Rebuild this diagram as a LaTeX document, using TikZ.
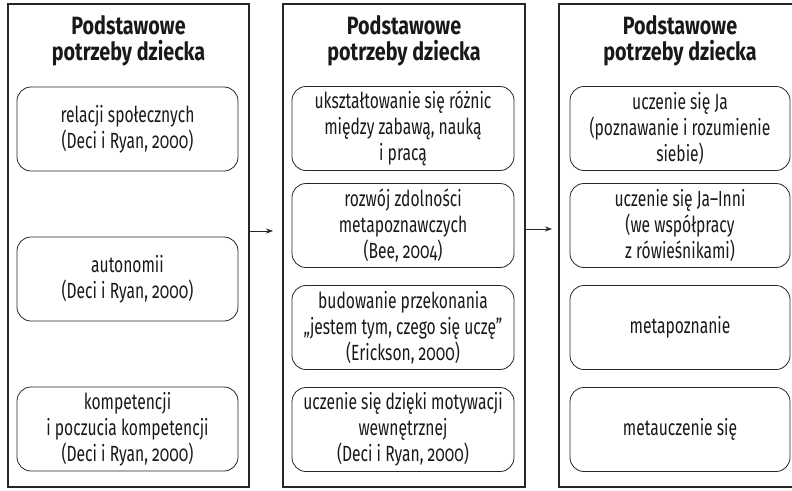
\documentclass[tikz,border=0pt]{standalone}
\usepackage{fontspec}
\setmainfont{Fira Sans}[FakeStretch=0.71, Numbers=OldStyle]
\newfontfamily\titlefont{Fira Sans}[FakeStretch=0.79, Numbers=OldStyle]
\usetikzlibrary{arrows.meta}
\begin{document}
\begin{tikzpicture}[x=1pt,y=-1pt,
 outerbox/.style={draw=black!85, line width=1.2pt, minimum height=483pt, inner sep=0pt},
 innerbox/.style={draw=black!85, line width=0.8pt, rounded corners=14pt, minimum height=84pt, align=center, inner sep=0pt, font=\fontsize{22}{26}\selectfont, text=black!90},
 titletext/.style={align=center, font=\titlefont\bfseries\fontsize{25}{26}\selectfont, text=black!90},
 arr/.style={draw=black!85, line width=0.8pt, -{Stealth[length=7pt,width=5pt]}}]
\useasboundingbox (0,0) rectangle (792,490);
\clip (0,0) rectangle (792,490);
% outer boxes
\node[outerbox, minimum width=241pt] (L) at (128.5,245.5) {};
\node[outerbox, minimum width=242pt] (M) at (404,245.5) {};
\node[outerbox, minimum width=242pt] (R) at (680,245.5) {};
% titles
\node[titletext] (Lt) at (128.5,41) {Podstawowe\\potrzeby dziecka};
\node[titletext] (Mt) at (404,41) {Podstawowe\\potrzeby dziecka};
\node[titletext] (Rt) at (680,41) {Podstawowe\\potrzeby dziecka};
% left column
\node[innerbox, minimum width=221pt] (L1) at (127.5,129) {relacji społecznych\\(Deci i Ryan, 2000)};
\node[innerbox, minimum width=221pt] (L2) at (127.5,279) {autonomii\\(Deci i Ryan, 2000)};
\node[innerbox, minimum width=221pt] (L3) at (127.5,429) {kompetencji\\i poczucia kompetencji\\(Deci i Ryan, 2000)};
% middle column
\node[innerbox, minimum width=222pt] (M1) at (403,128.5) {ukształtowanie się różnic\\między zabawą, nauką\\i pracą};
\node[innerbox, minimum width=222pt] (M2) at (403,225.5) {rozwój zdolności\\metapoznawczych\\(Bee, 2004)};
\node[innerbox, minimum width=222pt] (M3) at (403,327.5) {budowanie przekonania\\„jestem tym, czego się uczę”\\(Erickson, 2000)};
\node[innerbox, minimum width=222pt] (M4) at (403,429.5) {uczenie się dzięki motywacji\\wewnętrznej\\(Deci i Ryan, 2000)};
% right column
\node[innerbox, minimum width=220pt] (R1) at (680,128.5) {uczenie się Ja\\(poznawanie i rozumienie\\siebie)};
\node[innerbox, minimum width=220pt] (R2) at (680,225.5) {uczenie się Ja–Inni\\(we współpracy\\z rówieśnikami)};
\node[innerbox, minimum width=220pt] (R3) at (680,327.5) {metapoznanie};
\node[innerbox, minimum width=220pt] (R4) at (680,429.5) {metauczenie się};
% arrows
\coordinate (e1) at (273,231);
\coordinate (e2) at (552,229);
\draw[arr] (L.east |- e1) -- (e1);
\draw[arr] (M.east |- e2) -- (e2);
\end{tikzpicture}
\end{document}
